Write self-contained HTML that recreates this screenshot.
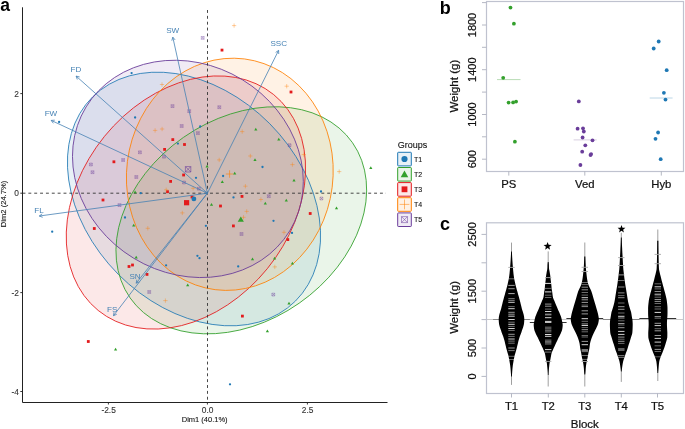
<!DOCTYPE html>
<html><head><meta charset="utf-8"><style>
html,body{margin:0;padding:0;background:#fff;}
svg{display:block;font-family:"Liberation Sans", sans-serif;will-change:transform;}
</style></head><body>
<svg width="685" height="429" viewBox="0 0 685 429">
<rect width="685" height="429" fill="#fff"/>
<ellipse cx="194.0" cy="199.0" rx="143.9" ry="106.8" transform="rotate(-134.8 194.0 199.0)" fill="#1F78B4" fill-opacity="0.1" stroke="none"/>
<ellipse cx="241.3" cy="220.3" rx="135.6" ry="101.1" transform="rotate(145.1 241.3 220.3)" fill="#33A02C" fill-opacity="0.1" stroke="none"/>
<ellipse cx="185.9" cy="202.5" rx="139.1" ry="104.9" transform="rotate(-50.9 185.9 202.5)" fill="#E31A1C" fill-opacity="0.1" stroke="none"/>
<ellipse cx="229.8" cy="174.3" rx="116.3" ry="103.2" transform="rotate(-82.8 229.8 174.3)" fill="#FF7F00" fill-opacity="0.1" stroke="none"/>
<ellipse cx="187.9" cy="168.9" rx="119.2" ry="104.5" transform="rotate(-148.7 187.9 168.9)" fill="#6A3D9A" fill-opacity="0.1" stroke="none"/>
<ellipse cx="194.0" cy="199.0" rx="143.9" ry="106.8" transform="rotate(-134.8 194.0 199.0)" fill="none" stroke="#1F78B4" stroke-width="0.8"/>
<ellipse cx="241.3" cy="220.3" rx="135.6" ry="101.1" transform="rotate(145.1 241.3 220.3)" fill="none" stroke="#33A02C" stroke-width="0.8"/>
<ellipse cx="185.9" cy="202.5" rx="139.1" ry="104.9" transform="rotate(-50.9 185.9 202.5)" fill="none" stroke="#E31A1C" stroke-width="0.8"/>
<ellipse cx="229.8" cy="174.3" rx="116.3" ry="103.2" transform="rotate(-82.8 229.8 174.3)" fill="none" stroke="#FF7F00" stroke-width="0.8"/>
<ellipse cx="187.9" cy="168.9" rx="119.2" ry="104.5" transform="rotate(-148.7 187.9 168.9)" fill="none" stroke="#6A3D9A" stroke-width="0.8"/>
<line x1="22.5" y1="193.2" x2="386" y2="193.2" stroke="#333" stroke-width="0.9" stroke-dasharray="2.93,2.93"/>
<line x1="207.5" y1="10" x2="207.5" y2="402" stroke="#333" stroke-width="0.9" stroke-dasharray="2.93,2.93"/>
<circle cx="131.6" cy="73.1" r="1.15" fill="#1F78B4"/>
<circle cx="59.1" cy="122" r="1.15" fill="#1F78B4"/>
<circle cx="135.1" cy="117.5" r="1.15" fill="#1F78B4"/>
<circle cx="200.2" cy="126.5" r="1.15" fill="#1F78B4"/>
<circle cx="177.9" cy="143.6" r="1.15" fill="#1F78B4"/>
<circle cx="196" cy="177.8" r="1.15" fill="#1F78B4"/>
<circle cx="223.1" cy="176" r="1.15" fill="#1F78B4"/>
<circle cx="140.7" cy="193.2" r="1.15" fill="#1F78B4"/>
<circle cx="262.5" cy="167" r="1.15" fill="#1F78B4"/>
<circle cx="233.5" cy="197.4" r="1.15" fill="#1F78B4"/>
<circle cx="125" cy="217.5" r="1.15" fill="#1F78B4"/>
<circle cx="52.2" cy="231.7" r="1.15" fill="#1F78B4"/>
<circle cx="205.9" cy="225.8" r="1.15" fill="#1F78B4"/>
<circle cx="197.4" cy="255.8" r="1.15" fill="#1F78B4"/>
<circle cx="199.5" cy="258.2" r="1.15" fill="#1F78B4"/>
<circle cx="166.1" cy="265.3" r="1.15" fill="#1F78B4"/>
<circle cx="273.5" cy="220.8" r="1.15" fill="#1F78B4"/>
<circle cx="292" cy="232.9" r="1.15" fill="#1F78B4"/>
<circle cx="321" cy="191.5" r="1.15" fill="#1F78B4"/>
<circle cx="230" cy="384.3" r="1.15" fill="#1F78B4"/>
<circle cx="238.2" cy="266.4" r="1.15" fill="#1F78B4"/>
<rect x="220.60" y="48.70" width="2.8" height="2.8" fill="#E31A1C"/>
<rect x="289.60" y="90.60" width="2.8" height="2.8" fill="#E31A1C"/>
<rect x="112.50" y="160.40" width="2.8" height="2.8" fill="#E31A1C"/>
<rect x="171.40" y="138.20" width="2.8" height="2.8" fill="#E31A1C"/>
<rect x="183.10" y="143.10" width="2.8" height="2.8" fill="#E31A1C"/>
<rect x="163.20" y="148.00" width="2.8" height="2.8" fill="#E31A1C"/>
<rect x="182.20" y="173.60" width="2.8" height="2.8" fill="#E31A1C"/>
<rect x="169.20" y="180.00" width="2.8" height="2.8" fill="#E31A1C"/>
<rect x="166.10" y="190.30" width="2.8" height="2.8" fill="#E31A1C"/>
<rect x="190.60" y="195.60" width="2.8" height="2.8" fill="#E31A1C"/>
<rect x="219.10" y="204.60" width="2.8" height="2.8" fill="#E31A1C"/>
<rect x="240.60" y="195.00" width="2.8" height="2.8" fill="#E31A1C"/>
<rect x="101.60" y="198.60" width="2.8" height="2.8" fill="#E31A1C"/>
<rect x="92.90" y="227.10" width="2.8" height="2.8" fill="#E31A1C"/>
<rect x="127.60" y="265.10" width="2.8" height="2.8" fill="#E31A1C"/>
<rect x="131.10" y="263.60" width="2.8" height="2.8" fill="#E31A1C"/>
<rect x="145.60" y="273.00" width="2.8" height="2.8" fill="#E31A1C"/>
<rect x="241.00" y="314.70" width="2.8" height="2.8" fill="#E31A1C"/>
<rect x="286.40" y="238.20" width="2.8" height="2.8" fill="#E31A1C"/>
<rect x="308.80" y="212.10" width="2.8" height="2.8" fill="#E31A1C"/>
<rect x="86.90" y="340.10" width="2.8" height="2.8" fill="#E31A1C"/>
<rect x="232.00" y="224.50" width="2.8" height="2.8" fill="#E31A1C"/>
<path d="M207.10,164.84L208.70,167.61L205.50,167.61Z" fill="#33A02C"/>
<path d="M255.80,127.64L257.40,130.41L254.20,130.41Z" fill="#33A02C"/>
<path d="M278.80,137.64L280.40,140.41L277.20,140.41Z" fill="#33A02C"/>
<path d="M255.00,158.34L256.60,161.11L253.40,161.11Z" fill="#33A02C"/>
<path d="M294.00,178.84L295.60,181.61L292.40,181.61Z" fill="#33A02C"/>
<path d="M370.80,166.34L372.40,169.11L369.20,169.11Z" fill="#33A02C"/>
<path d="M286.30,198.84L287.90,201.61L284.70,201.61Z" fill="#33A02C"/>
<path d="M265.30,201.64L266.90,204.41L263.70,204.41Z" fill="#33A02C"/>
<path d="M336.50,206.54L338.10,209.31L334.90,209.31Z" fill="#33A02C"/>
<path d="M222.30,180.34L223.90,183.11L220.70,183.11Z" fill="#33A02C"/>
<path d="M234.70,171.84L236.30,174.61L233.10,174.61Z" fill="#33A02C"/>
<path d="M211.50,202.94L213.10,205.71L209.90,205.71Z" fill="#33A02C"/>
<path d="M135.10,190.54L136.70,193.31L133.50,193.31Z" fill="#33A02C"/>
<path d="M133.70,223.84L135.30,226.61L132.10,226.61Z" fill="#33A02C"/>
<path d="M136.20,255.74L137.80,258.51L134.60,258.51Z" fill="#33A02C"/>
<path d="M252.50,257.54L254.10,260.31L250.90,260.31Z" fill="#33A02C"/>
<path d="M274.60,256.84L276.20,259.61L273.00,259.61Z" fill="#33A02C"/>
<path d="M292.40,261.74L294.00,264.51L290.80,264.51Z" fill="#33A02C"/>
<path d="M187.70,283.44L189.30,286.21L186.10,286.21Z" fill="#33A02C"/>
<path d="M289.00,301.64L290.60,304.41L287.40,304.41Z" fill="#33A02C"/>
<path d="M267.40,329.54L269.00,332.31L265.80,332.31Z" fill="#33A02C"/>
<path d="M115.60,347.64L117.20,350.41L114.00,350.41Z" fill="#33A02C"/>
<path d="M231.95,25.6H236.25M234.1,23.45V27.75" stroke="#FF7F00" stroke-width="0.5" stroke-opacity="0.75" fill="none"/>
<path d="M159.85,84.5H164.15M162,82.35V86.65" stroke="#FF7F00" stroke-width="0.5" stroke-opacity="0.75" fill="none"/>
<path d="M284.55,86.2H288.85M286.7,84.05V88.35" stroke="#FF7F00" stroke-width="0.5" stroke-opacity="0.75" fill="none"/>
<path d="M152.95,130.4H157.25M155.1,128.25V132.55" stroke="#FF7F00" stroke-width="0.5" stroke-opacity="0.75" fill="none"/>
<path d="M159.95,129H164.25M162.1,126.85V131.15" stroke="#FF7F00" stroke-width="0.5" stroke-opacity="0.75" fill="none"/>
<path d="M240.05,131.6H244.35M242.2,129.45V133.75" stroke="#FF7F00" stroke-width="0.5" stroke-opacity="0.75" fill="none"/>
<path d="M248.15,156H252.45M250.3,153.85V158.15" stroke="#FF7F00" stroke-width="0.5" stroke-opacity="0.75" fill="none"/>
<path d="M217.05,159.9H221.35M219.2,157.75V162.05" stroke="#FF7F00" stroke-width="0.5" stroke-opacity="0.75" fill="none"/>
<path d="M290.25,164.6H294.55M292.4,162.45V166.75" stroke="#FF7F00" stroke-width="0.5" stroke-opacity="0.75" fill="none"/>
<path d="M337.05,171.6H341.35M339.2,169.45V173.75" stroke="#FF7F00" stroke-width="0.5" stroke-opacity="0.75" fill="none"/>
<path d="M258.75,199.5H263.05M260.9,197.35V201.65" stroke="#FF7F00" stroke-width="0.5" stroke-opacity="0.75" fill="none"/>
<path d="M190.95,188.3H195.25M193.1,186.15V190.45" stroke="#FF7F00" stroke-width="0.5" stroke-opacity="0.75" fill="none"/>
<path d="M164.05,189.8H168.35M166.2,187.65V191.95" stroke="#FF7F00" stroke-width="0.5" stroke-opacity="0.75" fill="none"/>
<path d="M243.25,186.2H247.55M245.4,184.05V188.35" stroke="#FF7F00" stroke-width="0.5" stroke-opacity="0.75" fill="none"/>
<path d="M244.55,211.4H248.85M246.7,209.25V213.55" stroke="#FF7F00" stroke-width="0.5" stroke-opacity="0.75" fill="none"/>
<path d="M241.35,217.3H245.65M243.5,215.15V219.45" stroke="#FF7F00" stroke-width="0.5" stroke-opacity="0.75" fill="none"/>
<path d="M180.15,212.9H184.45M182.3,210.75V215.05" stroke="#FF7F00" stroke-width="0.5" stroke-opacity="0.75" fill="none"/>
<path d="M145.65,228.3H149.95M147.8,226.15V230.45" stroke="#FF7F00" stroke-width="0.5" stroke-opacity="0.75" fill="none"/>
<path d="M281.85,232.3H286.15M284,230.15V234.45" stroke="#FF7F00" stroke-width="0.5" stroke-opacity="0.75" fill="none"/>
<path d="M272.65,266.9H276.95M274.8,264.75V269.05" stroke="#FF7F00" stroke-width="0.5" stroke-opacity="0.75" fill="none"/>
<path d="M163.25,300.6H167.55M165.4,298.45V302.75" stroke="#FF7F00" stroke-width="0.5" stroke-opacity="0.75" fill="none"/>
<path d="M301.65,154.6H305.95M303.8,152.45V156.75" stroke="#FF7F00" stroke-width="0.5" stroke-opacity="0.75" fill="none"/>
<path d="M201.30,36.50h2.8v2.8h-2.8zM201.30,36.50l2.8,2.8M204.10,36.50l-2.8,2.8" stroke="#6A3D9A" stroke-width="0.45" stroke-opacity="0.8" fill="none"/>
<path d="M171.10,104.70h2.8v2.8h-2.8zM171.10,104.70l2.8,2.8M173.90,104.70l-2.8,2.8" stroke="#6A3D9A" stroke-width="0.45" stroke-opacity="0.8" fill="none"/>
<path d="M187.80,109.70h2.8v2.8h-2.8zM187.80,109.70l2.8,2.8M190.60,109.70l-2.8,2.8" stroke="#6A3D9A" stroke-width="0.45" stroke-opacity="0.8" fill="none"/>
<path d="M217.90,105.80h2.8v2.8h-2.8zM217.90,105.80l2.8,2.8M220.70,105.80l-2.8,2.8" stroke="#6A3D9A" stroke-width="0.45" stroke-opacity="0.8" fill="none"/>
<path d="M180.30,124.60h2.8v2.8h-2.8zM180.30,124.60l2.8,2.8M183.10,124.60l-2.8,2.8" stroke="#6A3D9A" stroke-width="0.45" stroke-opacity="0.8" fill="none"/>
<path d="M196.50,131.70h2.8v2.8h-2.8zM196.50,131.70l2.8,2.8M199.30,131.70l-2.8,2.8" stroke="#6A3D9A" stroke-width="0.45" stroke-opacity="0.8" fill="none"/>
<path d="M138.50,150.90h2.8v2.8h-2.8zM138.50,150.90l2.8,2.8M141.30,150.90l-2.8,2.8" stroke="#6A3D9A" stroke-width="0.45" stroke-opacity="0.8" fill="none"/>
<path d="M162.60,155.30h2.8v2.8h-2.8zM162.60,155.30l2.8,2.8M165.40,155.30l-2.8,2.8" stroke="#6A3D9A" stroke-width="0.45" stroke-opacity="0.8" fill="none"/>
<path d="M134.90,175.60h2.8v2.8h-2.8zM134.90,175.60l2.8,2.8M137.70,175.60l-2.8,2.8" stroke="#6A3D9A" stroke-width="0.45" stroke-opacity="0.8" fill="none"/>
<path d="M182.60,181.10h2.8v2.8h-2.8zM182.60,181.10l2.8,2.8M185.40,181.10l-2.8,2.8" stroke="#6A3D9A" stroke-width="0.45" stroke-opacity="0.8" fill="none"/>
<path d="M197.40,187.30h2.8v2.8h-2.8zM197.40,187.30l2.8,2.8M200.20,187.30l-2.8,2.8" stroke="#6A3D9A" stroke-width="0.45" stroke-opacity="0.8" fill="none"/>
<path d="M89.50,163.10h2.8v2.8h-2.8zM89.50,163.10l2.8,2.8M92.30,163.10l-2.8,2.8" stroke="#6A3D9A" stroke-width="0.45" stroke-opacity="0.8" fill="none"/>
<path d="M91.10,170.80h2.8v2.8h-2.8zM91.10,170.80l2.8,2.8M93.90,170.80l-2.8,2.8" stroke="#6A3D9A" stroke-width="0.45" stroke-opacity="0.8" fill="none"/>
<path d="M121.70,158.60h2.8v2.8h-2.8zM121.70,158.60l2.8,2.8M124.50,158.60l-2.8,2.8" stroke="#6A3D9A" stroke-width="0.45" stroke-opacity="0.8" fill="none"/>
<path d="M118.10,203.70h2.8v2.8h-2.8zM118.10,203.70l2.8,2.8M120.90,203.70l-2.8,2.8" stroke="#6A3D9A" stroke-width="0.45" stroke-opacity="0.8" fill="none"/>
<path d="M288.20,143.80h2.8v2.8h-2.8zM288.20,143.80l2.8,2.8M291.00,143.80l-2.8,2.8" stroke="#6A3D9A" stroke-width="0.45" stroke-opacity="0.8" fill="none"/>
<path d="M267.40,194.80h2.8v2.8h-2.8zM267.40,194.80l2.8,2.8M270.20,194.80l-2.8,2.8" stroke="#6A3D9A" stroke-width="0.45" stroke-opacity="0.8" fill="none"/>
<path d="M320.00,197.10h2.8v2.8h-2.8zM320.00,197.10l2.8,2.8M322.80,197.10l-2.8,2.8" stroke="#6A3D9A" stroke-width="0.45" stroke-opacity="0.8" fill="none"/>
<path d="M271.90,293.20h2.8v2.8h-2.8zM271.90,293.20l2.8,2.8M274.70,293.20l-2.8,2.8" stroke="#6A3D9A" stroke-width="0.45" stroke-opacity="0.8" fill="none"/>
<path d="M147.80,290.60h2.8v2.8h-2.8zM147.80,290.60l2.8,2.8M150.60,290.60l-2.8,2.8" stroke="#6A3D9A" stroke-width="0.45" stroke-opacity="0.8" fill="none"/>
<path d="M240.10,232.60h2.8v2.8h-2.8zM240.10,232.60l2.8,2.8M242.90,232.60l-2.8,2.8" stroke="#6A3D9A" stroke-width="0.45" stroke-opacity="0.8" fill="none"/>
<circle cx="193.9" cy="198.9" r="2.4" fill="#1F78B4"/>
<rect x="184.00" y="200.10" width="5.2" height="5.2" fill="#E31A1C"/>
<path d="M240.80,216.48L243.90,221.85L237.70,221.85Z" fill="#33A02C"/>
<path d="M225.85,174H233.35M229.6,170.25V177.75" stroke="#FF7F00" stroke-width="0.6" stroke-opacity="1" fill="none"/>
<path d="M185.40,166.60h5.4v5.4h-5.4zM185.40,166.60l5.4,5.4M190.80,166.60l-5.4,5.4" stroke="#6A3D9A" stroke-width="0.6" stroke-opacity="1" fill="none"/>
<line x1="207.4" y1="193.2" x2="172.8" y2="37.2" stroke="#4682B4" stroke-width="0.8"/>
<line x1="172.8" y1="37.2" x2="171.80" y2="40.66" stroke="#4682B4" stroke-width="0.8"/>
<line x1="172.8" y1="37.2" x2="175.17" y2="39.91" stroke="#4682B4" stroke-width="0.8"/>
<text x="172.7" y="32.9" font-size="8.1" fill="#4682B4" text-anchor="middle">SW</text>
<line x1="207.4" y1="193.2" x2="278.6" y2="50.4" stroke="#4682B4" stroke-width="0.8"/>
<line x1="278.6" y1="50.4" x2="275.65" y2="52.46" stroke="#4682B4" stroke-width="0.8"/>
<line x1="278.6" y1="50.4" x2="278.73" y2="54.00" stroke="#4682B4" stroke-width="0.8"/>
<text x="278.75" y="46.45" font-size="8.1" fill="#4682B4" text-anchor="middle">SSC</text>
<line x1="207.4" y1="193.2" x2="76.1" y2="76.1" stroke="#4682B4" stroke-width="0.8"/>
<line x1="76.1" y1="76.1" x2="77.31" y2="79.49" stroke="#4682B4" stroke-width="0.8"/>
<line x1="76.1" y1="76.1" x2="79.61" y2="76.91" stroke="#4682B4" stroke-width="0.8"/>
<text x="75.9" y="72.25" font-size="8.1" fill="#4682B4" text-anchor="middle">FD</text>
<line x1="207.4" y1="193.2" x2="51.2" y2="120.4" stroke="#4682B4" stroke-width="0.8"/>
<line x1="51.2" y1="120.4" x2="53.33" y2="123.30" stroke="#4682B4" stroke-width="0.8"/>
<line x1="51.2" y1="120.4" x2="54.79" y2="120.17" stroke="#4682B4" stroke-width="0.8"/>
<text x="50.95" y="116.0" font-size="8.1" fill="#4682B4" text-anchor="middle">FW</text>
<line x1="207.4" y1="193.2" x2="39.3" y2="216" stroke="#4682B4" stroke-width="0.8"/>
<line x1="39.3" y1="216" x2="42.66" y2="217.29" stroke="#4682B4" stroke-width="0.8"/>
<line x1="39.3" y1="216" x2="42.20" y2="213.87" stroke="#4682B4" stroke-width="0.8"/>
<text x="39.1" y="212.55" font-size="8.1" fill="#4682B4" text-anchor="middle">FL</text>
<line x1="207.4" y1="193.2" x2="136.2" y2="283.2" stroke="#4682B4" stroke-width="0.8"/>
<line x1="136.2" y1="283.2" x2="139.51" y2="281.79" stroke="#4682B4" stroke-width="0.8"/>
<line x1="136.2" y1="283.2" x2="136.81" y2="279.65" stroke="#4682B4" stroke-width="0.8"/>
<text x="135.0" y="278.8" font-size="8.1" fill="#4682B4" text-anchor="middle">SN</text>
<line x1="207.4" y1="193.2" x2="113.5" y2="315.7" stroke="#4682B4" stroke-width="0.8"/>
<line x1="113.5" y1="315.7" x2="116.79" y2="314.24" stroke="#4682B4" stroke-width="0.8"/>
<line x1="113.5" y1="315.7" x2="114.05" y2="312.14" stroke="#4682B4" stroke-width="0.8"/>
<text x="112.15" y="312.25" font-size="8.1" fill="#4682B4" text-anchor="middle">FS</text>
<path d="M22.5,7.3V402.5H387.5" stroke="#222" stroke-width="1" fill="none"/>
<line x1="20.3" y1="93.6" x2="22.5" y2="93.6" stroke="#222" stroke-width="0.9"/>
<text stroke="#333" stroke-width="0.1" x="18.9" y="96.6" font-size="8.4" fill="#333" text-anchor="end">2</text>
<line x1="20.3" y1="193.2" x2="22.5" y2="193.2" stroke="#222" stroke-width="0.9"/>
<text stroke="#333" stroke-width="0.1" x="18.9" y="196.2" font-size="8.4" fill="#333" text-anchor="end">0</text>
<line x1="20.3" y1="292.6" x2="22.5" y2="292.6" stroke="#222" stroke-width="0.9"/>
<text stroke="#333" stroke-width="0.1" x="18.9" y="295.6" font-size="8.4" fill="#333" text-anchor="end">-2</text>
<line x1="20.3" y1="391.5" x2="22.5" y2="391.5" stroke="#222" stroke-width="0.9"/>
<text stroke="#333" stroke-width="0.1" x="18.9" y="394.5" font-size="8.4" fill="#333" text-anchor="end">-4</text>
<line x1="108.4" y1="402.3" x2="108.4" y2="404.5" stroke="#222" stroke-width="0.9"/>
<text stroke="#333" stroke-width="0.1" x="108.60000000000001" y="412.8" font-size="8.4" fill="#333" text-anchor="middle">-2.5</text>
<line x1="207.4" y1="402.3" x2="207.4" y2="404.5" stroke="#222" stroke-width="0.9"/>
<text stroke="#333" stroke-width="0.1" x="207.6" y="412.8" font-size="8.4" fill="#333" text-anchor="middle">0.0</text>
<line x1="307.4" y1="402.3" x2="307.4" y2="404.5" stroke="#222" stroke-width="0.9"/>
<text stroke="#333" stroke-width="0.1" x="307.59999999999997" y="412.8" font-size="8.4" fill="#333" text-anchor="middle">2.5</text>
<text stroke="#111" stroke-width="0.1" x="204.7" y="422.4" font-size="7.5" fill="#111" text-anchor="middle">Dim1 (40.1%)</text>
<text stroke="#111" stroke-width="0.1" transform="translate(6.4,204) rotate(-90)" font-size="7.6" fill="#111" text-anchor="middle">Dim2 (24.7%)</text>
<text x="0.3" y="10.8" font-size="17.5" font-weight="bold" fill="#000">a</text>
<text stroke="#111" stroke-width="0.1" x="397.8" y="147.8" font-size="9" fill="#111">Groups</text>
<rect x="397.7" y="152.3" width="13.6" height="13.6" rx="0.6" fill="#1F78B4" fill-opacity="0.1" stroke="#1F78B4" stroke-width="1"/>
<circle cx="404.5" cy="159.0" r="3.1" fill="#1F78B4"/>
<text stroke="#111" stroke-width="0.1" x="414.1" y="161.8" font-size="7" fill="#111">T1</text>
<rect x="397.7" y="167.5" width="13.6" height="13.6" rx="0.6" fill="#33A02C" fill-opacity="0.1" stroke="#33A02C" stroke-width="1"/>
<path d="M404.50,170.55L408.30,177.13L400.70,177.13Z" fill="#33A02C"/>
<text stroke="#111" stroke-width="0.1" x="414.1" y="177.0" font-size="7" fill="#111">T2</text>
<rect x="397.7" y="182.6" width="13.6" height="13.6" rx="0.6" fill="#E31A1C" fill-opacity="0.1" stroke="#E31A1C" stroke-width="1"/>
<rect x="401.60" y="186.40" width="5.8" height="5.8" fill="#E31A1C"/>
<text stroke="#111" stroke-width="0.1" x="414.1" y="192.1" font-size="7" fill="#111">T3</text>
<rect x="397.7" y="197.7" width="13.6" height="13.6" rx="0.6" fill="#FF7F00" fill-opacity="0.1" stroke="#FF7F00" stroke-width="1"/>
<path d="M399.60,204.39999999999998H409.40M404.5,199.50V209.30" stroke="#FF7F00" stroke-width="0.65" stroke-opacity="0.8" fill="none"/>
<text stroke="#111" stroke-width="0.1" x="414.1" y="207.2" font-size="7" fill="#111">T4</text>
<rect x="397.7" y="212.9" width="13.6" height="13.6" rx="0.6" fill="#6A3D9A" fill-opacity="0.1" stroke="#6A3D9A" stroke-width="1"/>
<path d="M401.50,216.60h6.0v6.0h-6.0zM401.50,216.60l6.0,6.0M407.50,216.60l-6.0,6.0" stroke="#6A3D9A" stroke-width="0.65" stroke-opacity="0.8" fill="none"/>
<text stroke="#111" stroke-width="0.1" x="414.1" y="222.4" font-size="7" fill="#111">T5</text>
<text x="439.8" y="13.8" font-size="18" font-weight="bold" fill="#000">b</text>
<rect x="486.5" y="1.5" width="197" height="170" fill="none" stroke="#bfc2cf" stroke-width="1.2"/>
<line x1="482" y1="2.6" x2="486.5" y2="2.6" stroke="#b5b8c4" stroke-width="1"/>
<line x1="482" y1="25.0" x2="486.5" y2="25.0" stroke="#b5b8c4" stroke-width="1"/>
<line x1="482" y1="47.3" x2="486.5" y2="47.3" stroke="#b5b8c4" stroke-width="1"/>
<line x1="482" y1="69.7" x2="486.5" y2="69.7" stroke="#b5b8c4" stroke-width="1"/>
<line x1="482" y1="92.1" x2="486.5" y2="92.1" stroke="#b5b8c4" stroke-width="1"/>
<line x1="482" y1="114.5" x2="486.5" y2="114.5" stroke="#b5b8c4" stroke-width="1"/>
<line x1="482" y1="136.8" x2="486.5" y2="136.8" stroke="#b5b8c4" stroke-width="1"/>
<line x1="482" y1="159.2" x2="486.5" y2="159.2" stroke="#b5b8c4" stroke-width="1"/>
<text stroke="#111" stroke-width="0.22" transform="translate(476.2,25.0) rotate(-90)" font-size="11" fill="#111" text-anchor="middle">1800</text>
<text stroke="#111" stroke-width="0.22" transform="translate(476.2,69.7) rotate(-90)" font-size="11" fill="#111" text-anchor="middle">1400</text>
<text stroke="#111" stroke-width="0.22" transform="translate(476.2,114.5) rotate(-90)" font-size="11" fill="#111" text-anchor="middle">1000</text>
<text stroke="#111" stroke-width="0.22" transform="translate(476.2,159.2) rotate(-90)" font-size="11" fill="#111" text-anchor="middle">600</text>
<text stroke="#111" stroke-width="0.22" transform="translate(457.8,86.2) rotate(-90)" font-size="11.5" fill="#111" text-anchor="middle">Weight (g)</text>
<line x1="508.8" y1="171" x2="508.8" y2="175.6" stroke="#b5b8c4" stroke-width="1"/>
<text stroke="#111" stroke-width="0.22" x="508.8" y="188.1" font-size="11.3" fill="#111" text-anchor="middle">PS</text>
<line x1="584.8" y1="171" x2="584.8" y2="175.6" stroke="#b5b8c4" stroke-width="1"/>
<text stroke="#111" stroke-width="0.22" x="584.8" y="188.1" font-size="11.3" fill="#111" text-anchor="middle">Ved</text>
<line x1="661.3" y1="171" x2="661.3" y2="175.6" stroke="#b5b8c4" stroke-width="1"/>
<text stroke="#111" stroke-width="0.22" x="661.3" y="188.1" font-size="11.3" fill="#111" text-anchor="middle">Hyb</text>
<line x1="497" y1="79.6" x2="520.5" y2="79.6" stroke="#b9dcb6" stroke-width="1"/>
<line x1="573.6" y1="139.9" x2="596.7" y2="139.9" stroke="#d8cfe0" stroke-width="1"/>
<line x1="649.7" y1="98" x2="672.6" y2="98" stroke="#bcd6e6" stroke-width="1"/>
<circle cx="510.5" cy="7.6" r="1.9" fill="#33A02C"/>
<circle cx="513.9" cy="23.7" r="1.9" fill="#33A02C"/>
<circle cx="503.2" cy="77.8" r="1.9" fill="#33A02C"/>
<circle cx="508.6" cy="102.6" r="1.9" fill="#33A02C"/>
<circle cx="513.1" cy="102.4" r="1.9" fill="#33A02C"/>
<circle cx="516.1" cy="101.6" r="1.9" fill="#33A02C"/>
<circle cx="514.9" cy="141.7" r="1.9" fill="#33A02C"/>
<circle cx="578.8" cy="101.4" r="1.9" fill="#6A3D9A"/>
<circle cx="577.6" cy="128.7" r="1.9" fill="#6A3D9A"/>
<circle cx="583.0" cy="128.3" r="1.9" fill="#6A3D9A"/>
<circle cx="583.8" cy="131.5" r="1.9" fill="#6A3D9A"/>
<circle cx="582.6" cy="137.5" r="1.9" fill="#6A3D9A"/>
<circle cx="592.5" cy="140.3" r="1.9" fill="#6A3D9A"/>
<circle cx="585.3" cy="145.3" r="1.9" fill="#6A3D9A"/>
<circle cx="582.2" cy="151.7" r="1.9" fill="#6A3D9A"/>
<circle cx="591.1" cy="154.1" r="1.9" fill="#6A3D9A"/>
<circle cx="590.5" cy="155.1" r="1.9" fill="#6A3D9A"/>
<circle cx="580.4" cy="165" r="1.9" fill="#6A3D9A"/>
<circle cx="658.7" cy="41.5" r="1.9" fill="#1F78B4"/>
<circle cx="653.7" cy="48.5" r="1.9" fill="#1F78B4"/>
<circle cx="666.7" cy="70.2" r="1.9" fill="#1F78B4"/>
<circle cx="663.9" cy="92.8" r="1.9" fill="#1F78B4"/>
<circle cx="665.5" cy="99.6" r="1.9" fill="#1F78B4"/>
<circle cx="658.1" cy="132.5" r="1.9" fill="#1F78B4"/>
<circle cx="655.5" cy="138.8" r="1.9" fill="#1F78B4"/>
<circle cx="660.7" cy="159.2" r="1.9" fill="#1F78B4"/>
<text x="440" y="229.8" font-size="18" font-weight="bold" fill="#000">c</text>
<line x1="486.5" y1="319.5" x2="683.3" y2="319.5" stroke="#c4c4c4" stroke-width="0.9"/>
<line x1="511.5" y1="242.6" x2="511.5" y2="384.9" stroke="#888" stroke-width="0.8"/>
<line x1="493.1" y1="319.5" x2="529.9" y2="319.5" stroke="#8a8a8a" stroke-width="1"/>
<path d="M511.90,251.50 L511.97,253.08 L512.05,254.66 L512.13,256.24 L512.22,257.82 L512.32,259.41 L512.42,260.99 L512.53,262.57 L512.65,264.15 L512.78,265.73 L512.91,267.31 L513.04,268.89 L513.18,270.47 L513.33,272.05 L513.49,273.63 L513.68,275.22 L513.90,276.80 L514.16,278.38 L514.46,279.96 L514.78,281.54 L515.12,283.12 L515.48,284.70 L515.87,286.28 L516.30,287.86 L516.74,289.44 L517.19,291.03 L517.64,292.61 L518.07,294.19 L518.52,295.77 L518.96,297.35 L519.41,298.93 L519.84,300.51 L520.25,302.09 L520.65,303.67 L521.03,305.25 L521.41,306.84 L521.81,308.42 L522.24,310.00 L522.76,311.58 L523.28,313.16 L523.70,314.74 L524.00,316.32 L524.24,317.90 L524.30,319.48 L524.23,321.06 L524.10,322.65 L523.91,324.23 L523.55,325.81 L523.06,327.39 L522.50,328.97 L521.95,330.55 L521.43,332.13 L520.87,333.71 L520.28,335.29 L519.70,336.87 L519.17,338.46 L518.70,340.04 L518.30,341.62 L517.93,343.20 L517.55,344.78 L517.17,346.36 L516.78,347.94 L516.38,349.52 L515.94,351.10 L515.46,352.68 L514.98,354.27 L514.57,355.85 L514.22,357.43 L513.91,359.01 L513.62,360.59 L513.34,362.17 L513.07,363.75 L512.84,365.33 L512.64,366.91 L512.48,368.49 L512.34,370.08 L512.21,371.66 L512.10,373.24 L511.99,374.82 L511.90,376.40 L511.10,376.40 L511.01,374.82 L510.90,373.24 L510.79,371.66 L510.66,370.08 L510.52,368.49 L510.36,366.91 L510.16,365.33 L509.93,363.75 L509.66,362.17 L509.38,360.59 L509.09,359.01 L508.78,357.43 L508.43,355.85 L508.02,354.27 L507.54,352.68 L507.06,351.10 L506.62,349.52 L506.22,347.94 L505.83,346.36 L505.45,344.78 L505.07,343.20 L504.70,341.62 L504.30,340.04 L503.83,338.46 L503.30,336.87 L502.72,335.29 L502.13,333.71 L501.57,332.13 L501.05,330.55 L500.50,328.97 L499.94,327.39 L499.45,325.81 L499.09,324.23 L498.90,322.65 L498.77,321.06 L498.70,319.48 L498.76,317.90 L499.00,316.32 L499.30,314.74 L499.72,313.16 L500.24,311.58 L500.76,310.00 L501.19,308.42 L501.59,306.84 L501.97,305.25 L502.35,303.67 L502.75,302.09 L503.16,300.51 L503.59,298.93 L504.04,297.35 L504.48,295.77 L504.93,294.19 L505.36,292.61 L505.81,291.03 L506.26,289.44 L506.70,287.86 L507.13,286.28 L507.52,284.70 L507.88,283.12 L508.22,281.54 L508.54,279.96 L508.84,278.38 L509.10,276.80 L509.32,275.22 L509.51,273.63 L509.67,272.05 L509.82,270.47 L509.96,268.89 L510.09,267.31 L510.22,265.73 L510.35,264.15 L510.47,262.57 L510.58,260.99 L510.68,259.41 L510.78,257.82 L510.87,256.24 L510.95,254.66 L511.03,253.08 L511.10,251.50Z" fill="#000"/>
<line x1="508.3" y1="267.4" x2="514.7" y2="267.4" stroke="#a8a8a8" stroke-width="0.9"/>
<line x1="508.3" y1="278.8" x2="514.7" y2="278.8" stroke="#fff" stroke-opacity="0.47" stroke-width="0.9"/>
<line x1="508.3" y1="285.4" x2="514.7" y2="285.4" stroke="#fff" stroke-opacity="0.67" stroke-width="0.9"/>
<line x1="508.3" y1="288.7" x2="514.7" y2="288.7" stroke="#fff" stroke-opacity="0.62" stroke-width="0.9"/>
<line x1="508.3" y1="293.6" x2="514.7" y2="293.6" stroke="#fff" stroke-opacity="0.77" stroke-width="0.9"/>
<line x1="508.3" y1="298.5" x2="514.7" y2="298.5" stroke="#fff" stroke-opacity="0.47" stroke-width="0.9"/>
<line x1="508.3" y1="300.3" x2="514.7" y2="300.3" stroke="#fff" stroke-opacity="0.62" stroke-width="0.9"/>
<line x1="508.3" y1="302.3" x2="514.7" y2="302.3" stroke="#fff" stroke-opacity="0.92" stroke-width="0.9"/>
<line x1="508.3" y1="306.6" x2="514.7" y2="306.6" stroke="#fff" stroke-opacity="0.47" stroke-width="0.9"/>
<line x1="508.3" y1="308.7" x2="514.7" y2="308.7" stroke="#fff" stroke-opacity="0.92" stroke-width="0.9"/>
<line x1="508.3" y1="312.3" x2="514.7" y2="312.3" stroke="#fff" stroke-opacity="0.67" stroke-width="0.9"/>
<line x1="508.3" y1="314.2" x2="514.7" y2="314.2" stroke="#fff" stroke-opacity="0.67" stroke-width="0.9"/>
<line x1="508.3" y1="316.2" x2="514.7" y2="316.2" stroke="#fff" stroke-opacity="0.92" stroke-width="0.9"/>
<line x1="508.3" y1="319.5" x2="514.7" y2="319.5" stroke="#fff" stroke-opacity="0.92" stroke-width="0.9"/>
<line x1="508.3" y1="322.2" x2="514.7" y2="322.2" stroke="#fff" stroke-opacity="0.52" stroke-width="0.9"/>
<line x1="508.3" y1="324.3" x2="514.7" y2="324.3" stroke="#fff" stroke-opacity="0.92" stroke-width="0.9"/>
<line x1="508.3" y1="326.4" x2="514.7" y2="326.4" stroke="#fff" stroke-opacity="0.52" stroke-width="0.9"/>
<line x1="508.3" y1="328.5" x2="514.7" y2="328.5" stroke="#fff" stroke-opacity="0.92" stroke-width="0.9"/>
<line x1="508.3" y1="330.4" x2="514.7" y2="330.4" stroke="#fff" stroke-opacity="0.52" stroke-width="0.9"/>
<line x1="508.3" y1="334.3" x2="514.7" y2="334.3" stroke="#fff" stroke-opacity="0.67" stroke-width="0.9"/>
<line x1="508.3" y1="336.4" x2="514.7" y2="336.4" stroke="#fff" stroke-opacity="0.52" stroke-width="0.9"/>
<line x1="508.3" y1="339" x2="514.7" y2="339" stroke="#fff" stroke-opacity="0.92" stroke-width="0.9"/>
<line x1="508.3" y1="341.1" x2="514.7" y2="341.1" stroke="#fff" stroke-opacity="0.52" stroke-width="0.9"/>
<line x1="508.3" y1="343.2" x2="514.7" y2="343.2" stroke="#fff" stroke-opacity="0.52" stroke-width="0.9"/>
<line x1="508.3" y1="348" x2="514.7" y2="348" stroke="#fff" stroke-opacity="0.67" stroke-width="0.9"/>
<line x1="508.3" y1="350.6" x2="514.7" y2="350.6" stroke="#fff" stroke-opacity="0.52" stroke-width="0.9"/>
<line x1="508.3" y1="356.3" x2="514.7" y2="356.3" stroke="#fff" stroke-opacity="0.47" stroke-width="0.9"/>
<line x1="508.3" y1="359.5" x2="514.7" y2="359.5" stroke="#fff" stroke-opacity="0.47" stroke-width="0.9"/>
<line x1="548.2" y1="251.4" x2="548.2" y2="386.5" stroke="#888" stroke-width="0.8"/>
<line x1="529.8" y1="322.5" x2="566.6" y2="322.5" stroke="#333" stroke-width="1"/>
<path d="M548.60,262.00 L548.79,263.43 L548.89,264.86 L548.93,266.29 L548.97,267.72 L549.10,269.15 L549.38,270.58 L549.67,272.01 L549.91,273.44 L550.15,274.87 L550.35,276.30 L550.50,277.73 L550.63,279.16 L550.77,280.59 L550.97,282.03 L551.17,283.46 L551.34,284.89 L551.46,286.32 L551.57,287.75 L551.73,289.18 L551.96,290.61 L552.20,292.04 L552.41,293.47 L552.58,294.90 L552.76,296.33 L553.07,297.76 L553.61,299.19 L554.26,300.62 L554.84,302.05 L555.43,303.48 L556.03,304.91 L556.63,306.34 L557.24,307.77 L557.86,309.20 L558.49,310.63 L559.13,312.06 L559.74,313.49 L560.33,314.92 L560.88,316.35 L561.33,317.78 L561.68,319.22 L561.99,320.65 L562.26,322.08 L562.55,323.51 L562.70,324.94 L562.63,326.37 L562.46,327.80 L562.23,329.23 L561.85,330.66 L561.31,332.09 L560.71,333.52 L560.00,334.95 L559.22,336.38 L558.51,337.81 L557.85,339.24 L557.19,340.67 L556.52,342.10 L555.83,343.53 L555.15,344.96 L554.49,346.39 L553.84,347.82 L553.21,349.25 L552.58,350.68 L551.96,352.11 L551.49,353.54 L551.17,354.97 L550.92,356.41 L550.68,357.84 L550.42,359.27 L550.08,360.70 L549.75,362.13 L549.50,363.56 L549.33,364.99 L549.18,366.42 L549.03,367.85 L548.88,369.28 L548.74,370.71 L548.64,372.14 L548.56,373.57 L548.50,375.00 L547.90,375.00 L547.84,373.57 L547.76,372.14 L547.66,370.71 L547.52,369.28 L547.37,367.85 L547.22,366.42 L547.07,364.99 L546.90,363.56 L546.65,362.13 L546.32,360.70 L545.98,359.27 L545.72,357.84 L545.48,356.41 L545.23,354.97 L544.91,353.54 L544.44,352.11 L543.82,350.68 L543.19,349.25 L542.56,347.82 L541.91,346.39 L541.25,344.96 L540.57,343.53 L539.88,342.10 L539.21,340.67 L538.55,339.24 L537.89,337.81 L537.18,336.38 L536.40,334.95 L535.69,333.52 L535.09,332.09 L534.55,330.66 L534.17,329.23 L533.94,327.80 L533.77,326.37 L533.70,324.94 L533.85,323.51 L534.14,322.08 L534.41,320.65 L534.72,319.22 L535.07,317.78 L535.52,316.35 L536.07,314.92 L536.66,313.49 L537.27,312.06 L537.91,310.63 L538.54,309.20 L539.16,307.77 L539.77,306.34 L540.37,304.91 L540.97,303.48 L541.56,302.05 L542.14,300.62 L542.79,299.19 L543.33,297.76 L543.64,296.33 L543.82,294.90 L543.99,293.47 L544.20,292.04 L544.44,290.61 L544.67,289.18 L544.83,287.75 L544.94,286.32 L545.06,284.89 L545.23,283.46 L545.43,282.03 L545.63,280.59 L545.77,279.16 L545.90,277.73 L546.05,276.30 L546.25,274.87 L546.49,273.44 L546.73,272.01 L547.02,270.58 L547.30,269.15 L547.43,267.72 L547.47,266.29 L547.51,264.86 L547.61,263.43 L547.80,262.00Z" fill="#000"/>
<line x1="545.0" y1="277.6" x2="551.4" y2="277.6" stroke="#a8a8a8" stroke-width="0.9"/>
<line x1="545.0" y1="283.4" x2="551.4" y2="283.4" stroke="#fff" stroke-opacity="1.00" stroke-width="0.9"/>
<line x1="545.0" y1="288.4" x2="551.4" y2="288.4" stroke="#fff" stroke-opacity="0.47" stroke-width="0.9"/>
<line x1="545.0" y1="291.5" x2="551.4" y2="291.5" stroke="#fff" stroke-opacity="0.62" stroke-width="0.9"/>
<line x1="545.0" y1="292.6" x2="551.4" y2="292.6" stroke="#fff" stroke-opacity="0.47" stroke-width="0.9"/>
<line x1="545.0" y1="295.2" x2="551.4" y2="295.2" stroke="#fff" stroke-opacity="0.47" stroke-width="0.9"/>
<line x1="545.0" y1="297.5" x2="551.4" y2="297.5" stroke="#fff" stroke-opacity="0.47" stroke-width="0.9"/>
<line x1="545.0" y1="304.1" x2="551.4" y2="304.1" stroke="#fff" stroke-opacity="0.67" stroke-width="0.9"/>
<line x1="545.0" y1="306.2" x2="551.4" y2="306.2" stroke="#fff" stroke-opacity="0.67" stroke-width="0.9"/>
<line x1="545.0" y1="309.1" x2="551.4" y2="309.1" stroke="#fff" stroke-opacity="0.47" stroke-width="0.9"/>
<line x1="545.0" y1="311.5" x2="551.4" y2="311.5" stroke="#fff" stroke-opacity="0.92" stroke-width="0.9"/>
<line x1="545.0" y1="314.1" x2="551.4" y2="314.1" stroke="#fff" stroke-opacity="0.52" stroke-width="0.9"/>
<line x1="545.0" y1="314.9" x2="551.4" y2="314.9" stroke="#fff" stroke-opacity="0.62" stroke-width="0.9"/>
<line x1="545.0" y1="317.7" x2="551.4" y2="317.7" stroke="#fff" stroke-opacity="0.92" stroke-width="0.9"/>
<line x1="545.0" y1="321.4" x2="551.4" y2="321.4" stroke="#fff" stroke-opacity="0.92" stroke-width="0.9"/>
<line x1="545.0" y1="322.4" x2="551.4" y2="322.4" stroke="#fff" stroke-opacity="0.92" stroke-width="0.9"/>
<line x1="545.0" y1="327.2" x2="551.4" y2="327.2" stroke="#fff" stroke-opacity="0.52" stroke-width="0.9"/>
<line x1="545.0" y1="328.8" x2="551.4" y2="328.8" stroke="#fff" stroke-opacity="0.52" stroke-width="0.9"/>
<line x1="545.0" y1="330.3" x2="551.4" y2="330.3" stroke="#fff" stroke-opacity="0.52" stroke-width="0.9"/>
<line x1="545.0" y1="331.9" x2="551.4" y2="331.9" stroke="#fff" stroke-opacity="0.52" stroke-width="0.9"/>
<line x1="545.0" y1="334.5" x2="551.4" y2="334.5" stroke="#fff" stroke-opacity="0.97" stroke-width="0.9"/>
<line x1="545.0" y1="336.3" x2="551.4" y2="336.3" stroke="#fff" stroke-opacity="0.97" stroke-width="0.9"/>
<line x1="545.0" y1="340.1" x2="551.4" y2="340.1" stroke="#fff" stroke-opacity="0.52" stroke-width="0.9"/>
<line x1="545.0" y1="341.4" x2="551.4" y2="341.4" stroke="#fff" stroke-opacity="0.52" stroke-width="0.9"/>
<line x1="545.0" y1="342.7" x2="551.4" y2="342.7" stroke="#fff" stroke-opacity="0.52" stroke-width="0.9"/>
<line x1="545.0" y1="344" x2="551.4" y2="344" stroke="#fff" stroke-opacity="0.52" stroke-width="0.9"/>
<line x1="545.0" y1="349.6" x2="551.4" y2="349.6" stroke="#fff" stroke-opacity="0.92" stroke-width="0.9"/>
<line x1="545.0" y1="352.1" x2="551.4" y2="352.1" stroke="#fff" stroke-opacity="0.52" stroke-width="0.9"/>
<line x1="545.0" y1="361.4" x2="551.4" y2="361.4" stroke="#a8a8a8" stroke-width="0.9"/>
<line x1="584.8" y1="242.5" x2="584.8" y2="386.5" stroke="#888" stroke-width="0.8"/>
<line x1="566.4" y1="318.5" x2="603.2" y2="318.5" stroke="#333" stroke-width="1"/>
<path d="M585.35,256.50 L585.39,257.99 L585.44,259.49 L585.50,260.98 L585.56,262.47 L585.63,263.97 L585.70,265.46 L585.79,266.96 L585.92,268.45 L586.06,269.94 L586.20,271.44 L586.37,272.93 L586.54,274.42 L586.71,275.92 L586.90,277.41 L587.11,278.91 L587.38,280.40 L587.69,281.89 L588.05,283.39 L588.51,284.88 L589.04,286.37 L589.73,287.87 L590.48,289.36 L591.17,290.85 L591.71,292.35 L592.18,293.84 L592.62,295.34 L593.04,296.83 L593.46,298.32 L593.91,299.82 L594.36,301.31 L594.81,302.80 L595.27,304.30 L595.71,305.79 L596.14,307.28 L596.57,308.78 L597.01,310.27 L597.44,311.77 L597.84,313.26 L598.19,314.75 L598.47,316.25 L598.74,317.74 L598.85,319.23 L598.73,320.73 L598.46,322.22 L598.12,323.72 L597.56,325.21 L596.88,326.70 L596.18,328.20 L595.42,329.69 L594.66,331.18 L593.92,332.68 L593.20,334.17 L592.54,335.66 L591.93,337.16 L591.38,338.65 L590.89,340.15 L590.44,341.64 L590.07,343.13 L589.84,344.63 L589.68,346.12 L589.51,347.61 L589.26,349.11 L588.94,350.60 L588.61,352.09 L588.33,353.59 L588.07,355.08 L587.82,356.58 L587.55,358.07 L587.20,359.56 L586.84,361.06 L586.53,362.55 L586.27,364.04 L586.05,365.54 L585.86,367.03 L585.72,368.53 L585.62,370.02 L585.52,371.51 L585.39,373.01 L585.20,374.50 L584.40,374.50 L584.21,373.01 L584.08,371.51 L583.98,370.02 L583.88,368.53 L583.74,367.03 L583.55,365.54 L583.33,364.04 L583.07,362.55 L582.76,361.06 L582.40,359.56 L582.05,358.07 L581.78,356.58 L581.53,355.08 L581.27,353.59 L580.99,352.09 L580.66,350.60 L580.34,349.11 L580.09,347.61 L579.92,346.12 L579.76,344.63 L579.53,343.13 L579.16,341.64 L578.71,340.15 L578.22,338.65 L577.67,337.16 L577.06,335.66 L576.40,334.17 L575.68,332.68 L574.94,331.18 L574.18,329.69 L573.42,328.20 L572.72,326.70 L572.04,325.21 L571.48,323.72 L571.14,322.22 L570.87,320.73 L570.75,319.23 L570.86,317.74 L571.13,316.25 L571.41,314.75 L571.76,313.26 L572.16,311.77 L572.59,310.27 L573.03,308.78 L573.46,307.28 L573.89,305.79 L574.33,304.30 L574.79,302.80 L575.24,301.31 L575.69,299.82 L576.14,298.32 L576.56,296.83 L576.98,295.34 L577.42,293.84 L577.89,292.35 L578.43,290.85 L579.12,289.36 L579.87,287.87 L580.56,286.37 L581.09,284.88 L581.55,283.39 L581.91,281.89 L582.22,280.40 L582.49,278.91 L582.70,277.41 L582.89,275.92 L583.06,274.42 L583.23,272.93 L583.40,271.44 L583.54,269.94 L583.68,268.45 L583.81,266.96 L583.90,265.46 L583.97,263.97 L584.04,262.47 L584.10,260.98 L584.16,259.49 L584.21,257.99 L584.25,256.50Z" fill="#000"/>
<line x1="581.6" y1="267.3" x2="588.0" y2="267.3" stroke="#a8a8a8" stroke-width="0.9"/>
<line x1="581.6" y1="271.5" x2="588.0" y2="271.5" stroke="#a8a8a8" stroke-width="0.9"/>
<line x1="581.6" y1="282.5" x2="588.0" y2="282.5" stroke="#fff" stroke-opacity="0.47" stroke-width="0.9"/>
<line x1="581.6" y1="284.6" x2="588.0" y2="284.6" stroke="#fff" stroke-opacity="0.47" stroke-width="0.9"/>
<line x1="581.6" y1="287.2" x2="588.0" y2="287.2" stroke="#fff" stroke-opacity="0.62" stroke-width="0.9"/>
<line x1="581.6" y1="289.8" x2="588.0" y2="289.8" stroke="#fff" stroke-opacity="0.62" stroke-width="0.9"/>
<line x1="581.6" y1="292.5" x2="588.0" y2="292.5" stroke="#fff" stroke-opacity="0.47" stroke-width="0.9"/>
<line x1="581.6" y1="295.1" x2="588.0" y2="295.1" stroke="#fff" stroke-opacity="0.47" stroke-width="0.9"/>
<line x1="581.6" y1="297.7" x2="588.0" y2="297.7" stroke="#fff" stroke-opacity="0.92" stroke-width="0.9"/>
<line x1="581.6" y1="299.8" x2="588.0" y2="299.8" stroke="#fff" stroke-opacity="0.67" stroke-width="0.9"/>
<line x1="581.6" y1="302.4" x2="588.0" y2="302.4" stroke="#fff" stroke-opacity="0.67" stroke-width="0.9"/>
<line x1="581.6" y1="305.1" x2="588.0" y2="305.1" stroke="#fff" stroke-opacity="0.47" stroke-width="0.9"/>
<line x1="581.6" y1="306.6" x2="588.0" y2="306.6" stroke="#fff" stroke-opacity="0.62" stroke-width="0.9"/>
<line x1="581.6" y1="310.8" x2="588.0" y2="310.8" stroke="#fff" stroke-opacity="0.67" stroke-width="0.9"/>
<line x1="581.6" y1="313.9" x2="588.0" y2="313.9" stroke="#fff" stroke-opacity="0.67" stroke-width="0.9"/>
<line x1="581.6" y1="318.7" x2="588.0" y2="318.7" stroke="#fff" stroke-opacity="0.97" stroke-width="0.9"/>
<line x1="581.6" y1="321.3" x2="588.0" y2="321.3" stroke="#fff" stroke-opacity="0.47" stroke-width="0.9"/>
<line x1="581.6" y1="323.9" x2="588.0" y2="323.9" stroke="#fff" stroke-opacity="0.67" stroke-width="0.9"/>
<line x1="581.6" y1="325.5" x2="588.0" y2="325.5" stroke="#fff" stroke-opacity="0.92" stroke-width="0.9"/>
<line x1="581.6" y1="327.6" x2="588.0" y2="327.6" stroke="#fff" stroke-opacity="0.47" stroke-width="0.9"/>
<line x1="581.6" y1="329.7" x2="588.0" y2="329.7" stroke="#fff" stroke-opacity="0.67" stroke-width="0.9"/>
<line x1="581.6" y1="331.8" x2="588.0" y2="331.8" stroke="#fff" stroke-opacity="0.47" stroke-width="0.9"/>
<line x1="581.6" y1="335.5" x2="588.0" y2="335.5" stroke="#fff" stroke-opacity="0.47" stroke-width="0.9"/>
<line x1="581.6" y1="337" x2="588.0" y2="337" stroke="#fff" stroke-opacity="0.47" stroke-width="0.9"/>
<line x1="581.6" y1="341.4" x2="588.0" y2="341.4" stroke="#fff" stroke-opacity="0.67" stroke-width="0.9"/>
<line x1="581.6" y1="344.7" x2="588.0" y2="344.7" stroke="#fff" stroke-opacity="0.92" stroke-width="0.9"/>
<line x1="581.6" y1="349.5" x2="588.0" y2="349.5" stroke="#fff" stroke-opacity="0.52" stroke-width="0.9"/>
<line x1="581.6" y1="350.5" x2="588.0" y2="350.5" stroke="#fff" stroke-opacity="0.52" stroke-width="0.9"/>
<line x1="581.6" y1="351.6" x2="588.0" y2="351.6" stroke="#fff" stroke-opacity="0.52" stroke-width="0.9"/>
<line x1="581.6" y1="355.5" x2="588.0" y2="355.5" stroke="#fff" stroke-opacity="0.47" stroke-width="0.9"/>
<line x1="581.6" y1="359.4" x2="588.0" y2="359.4" stroke="#fff" stroke-opacity="0.47" stroke-width="0.9"/>
<line x1="581.6" y1="361.5" x2="588.0" y2="361.5" stroke="#a8a8a8" stroke-width="0.9"/>
<line x1="621.3" y1="232.8" x2="621.3" y2="381.9" stroke="#888" stroke-width="0.8"/>
<line x1="602.9" y1="319.5" x2="639.7" y2="319.5" stroke="#8a8a8a" stroke-width="1"/>
<path d="M621.70,237.40 L621.75,239.10 L621.81,240.79 L621.87,242.49 L621.94,244.19 L622.02,245.89 L622.11,247.58 L622.19,249.28 L622.28,250.98 L622.37,252.68 L622.46,254.37 L622.56,256.07 L622.65,257.77 L622.75,259.47 L622.84,261.16 L622.93,262.86 L623.02,264.56 L623.13,266.26 L623.25,267.95 L623.39,269.65 L623.57,271.35 L623.77,273.05 L623.97,274.74 L624.18,276.44 L624.39,278.14 L624.62,279.84 L624.85,281.53 L625.09,283.23 L625.35,284.93 L625.62,286.63 L625.90,288.32 L626.19,290.02 L626.47,291.72 L626.75,293.42 L627.01,295.11 L627.27,296.81 L627.54,298.51 L627.84,300.21 L628.16,301.90 L628.53,303.60 L628.97,305.30 L629.48,307.00 L630.01,308.69 L630.58,310.39 L631.07,312.09 L631.40,313.79 L631.67,315.48 L631.96,317.18 L632.30,318.88 L632.51,320.58 L632.63,322.27 L632.70,323.97 L632.69,325.67 L632.64,327.37 L632.58,329.06 L632.49,330.76 L632.36,332.46 L632.07,334.16 L631.52,335.85 L630.97,337.55 L630.45,339.25 L629.93,340.95 L629.38,342.64 L628.83,344.34 L628.29,346.04 L627.79,347.74 L627.26,349.43 L626.64,351.13 L626.01,352.83 L625.41,354.53 L624.82,356.22 L624.26,357.92 L623.69,359.62 L623.19,361.32 L622.83,363.01 L622.53,364.71 L622.27,366.41 L622.04,368.11 L621.83,369.80 L621.65,371.50 L620.95,371.50 L620.77,369.80 L620.56,368.11 L620.33,366.41 L620.07,364.71 L619.77,363.01 L619.41,361.32 L618.91,359.62 L618.34,357.92 L617.78,356.22 L617.19,354.53 L616.59,352.83 L615.96,351.13 L615.34,349.43 L614.81,347.74 L614.31,346.04 L613.77,344.34 L613.22,342.64 L612.67,340.95 L612.15,339.25 L611.63,337.55 L611.08,335.85 L610.53,334.16 L610.24,332.46 L610.11,330.76 L610.02,329.06 L609.96,327.37 L609.91,325.67 L609.90,323.97 L609.97,322.27 L610.09,320.58 L610.30,318.88 L610.64,317.18 L610.93,315.48 L611.20,313.79 L611.53,312.09 L612.02,310.39 L612.59,308.69 L613.12,307.00 L613.63,305.30 L614.07,303.60 L614.44,301.90 L614.76,300.21 L615.06,298.51 L615.33,296.81 L615.59,295.11 L615.85,293.42 L616.13,291.72 L616.41,290.02 L616.70,288.32 L616.98,286.63 L617.25,284.93 L617.51,283.23 L617.75,281.53 L617.98,279.84 L618.21,278.14 L618.42,276.44 L618.63,274.74 L618.83,273.05 L619.03,271.35 L619.21,269.65 L619.35,267.95 L619.47,266.26 L619.58,264.56 L619.67,262.86 L619.76,261.16 L619.85,259.47 L619.95,257.77 L620.04,256.07 L620.14,254.37 L620.23,252.68 L620.32,250.98 L620.41,249.28 L620.49,247.58 L620.58,245.89 L620.66,244.19 L620.73,242.49 L620.79,240.79 L620.85,239.10 L620.90,237.40Z" fill="#000"/>
<line x1="618.1" y1="257.6" x2="624.5" y2="257.6" stroke="#a8a8a8" stroke-width="0.9"/>
<line x1="618.1" y1="265.5" x2="624.5" y2="265.5" stroke="#a8a8a8" stroke-width="0.9"/>
<line x1="618.1" y1="274.9" x2="624.5" y2="274.9" stroke="#a8a8a8" stroke-width="0.9"/>
<line x1="618.1" y1="280.5" x2="624.5" y2="280.5" stroke="#fff" stroke-opacity="0.47" stroke-width="0.9"/>
<line x1="618.1" y1="287" x2="624.5" y2="287" stroke="#fff" stroke-opacity="0.62" stroke-width="0.9"/>
<line x1="618.1" y1="292.9" x2="624.5" y2="292.9" stroke="#fff" stroke-opacity="0.62" stroke-width="0.9"/>
<line x1="618.1" y1="295.6" x2="624.5" y2="295.6" stroke="#fff" stroke-opacity="0.47" stroke-width="0.9"/>
<line x1="618.1" y1="297.7" x2="624.5" y2="297.7" stroke="#fff" stroke-opacity="0.62" stroke-width="0.9"/>
<line x1="618.1" y1="303" x2="624.5" y2="303" stroke="#fff" stroke-opacity="0.47" stroke-width="0.9"/>
<line x1="618.1" y1="306.7" x2="624.5" y2="306.7" stroke="#fff" stroke-opacity="0.67" stroke-width="0.9"/>
<line x1="618.1" y1="309.3" x2="624.5" y2="309.3" stroke="#fff" stroke-opacity="0.67" stroke-width="0.9"/>
<line x1="618.1" y1="313" x2="624.5" y2="313" stroke="#fff" stroke-opacity="0.47" stroke-width="0.9"/>
<line x1="618.1" y1="316.3" x2="624.5" y2="316.3" stroke="#fff" stroke-opacity="0.92" stroke-width="0.9"/>
<line x1="618.1" y1="318" x2="624.5" y2="318" stroke="#fff" stroke-opacity="0.67" stroke-width="0.9"/>
<line x1="618.1" y1="320.8" x2="624.5" y2="320.8" stroke="#fff" stroke-opacity="0.47" stroke-width="0.9"/>
<line x1="618.1" y1="323.5" x2="624.5" y2="323.5" stroke="#fff" stroke-opacity="0.67" stroke-width="0.9"/>
<line x1="618.1" y1="325" x2="624.5" y2="325" stroke="#fff" stroke-opacity="0.47" stroke-width="0.9"/>
<line x1="618.1" y1="327.7" x2="624.5" y2="327.7" stroke="#fff" stroke-opacity="0.67" stroke-width="0.9"/>
<line x1="618.1" y1="331.4" x2="624.5" y2="331.4" stroke="#fff" stroke-opacity="0.92" stroke-width="0.9"/>
<line x1="618.1" y1="334.4" x2="624.5" y2="334.4" stroke="#fff" stroke-opacity="0.92" stroke-width="0.9"/>
<line x1="618.1" y1="337.1" x2="624.5" y2="337.1" stroke="#fff" stroke-opacity="0.67" stroke-width="0.9"/>
<line x1="618.1" y1="339.2" x2="624.5" y2="339.2" stroke="#fff" stroke-opacity="0.47" stroke-width="0.9"/>
<line x1="618.1" y1="341.3" x2="624.5" y2="341.3" stroke="#fff" stroke-opacity="0.67" stroke-width="0.9"/>
<line x1="618.1" y1="343.4" x2="624.5" y2="343.4" stroke="#fff" stroke-opacity="0.47" stroke-width="0.9"/>
<line x1="618.1" y1="348.9" x2="624.5" y2="348.9" stroke="#fff" stroke-opacity="0.67" stroke-width="0.9"/>
<line x1="618.1" y1="350.2" x2="624.5" y2="350.2" stroke="#fff" stroke-opacity="0.62" stroke-width="0.9"/>
<line x1="618.1" y1="355.7" x2="624.5" y2="355.7" stroke="#fff" stroke-opacity="0.62" stroke-width="0.9"/>
<line x1="618.1" y1="357.5" x2="624.5" y2="357.5" stroke="#fff" stroke-opacity="0.47" stroke-width="0.9"/>
<line x1="657.8" y1="229.5" x2="657.8" y2="381" stroke="#888" stroke-width="0.8"/>
<line x1="639.4" y1="318.5" x2="676.2" y2="318.5" stroke="#333" stroke-width="1"/>
<path d="M658.40,240.70 L658.41,242.37 L658.42,244.05 L658.43,245.72 L658.45,247.40 L658.47,249.07 L658.49,250.75 L658.51,252.42 L658.54,254.10 L658.56,255.77 L658.59,257.45 L658.63,259.12 L658.67,260.80 L658.72,262.47 L658.77,264.15 L658.83,265.82 L658.90,267.49 L659.01,269.17 L659.28,270.84 L659.69,272.52 L660.08,274.19 L660.51,275.87 L660.94,277.54 L661.36,279.22 L661.79,280.89 L662.24,282.57 L662.69,284.24 L663.14,285.92 L663.59,287.59 L664.04,289.27 L664.50,290.94 L664.97,292.62 L665.40,294.29 L665.83,295.96 L666.24,297.64 L666.58,299.31 L666.85,300.99 L667.05,302.66 L667.22,304.34 L667.38,306.01 L667.49,307.69 L667.50,309.36 L667.50,311.04 L667.50,312.71 L667.47,314.39 L667.41,316.06 L667.29,317.74 L667.12,319.41 L667.02,321.08 L666.97,322.76 L666.95,324.43 L666.99,326.11 L667.07,327.78 L667.16,329.46 L667.28,331.13 L667.35,332.81 L667.34,334.48 L667.32,336.16 L667.24,337.83 L666.85,339.51 L666.35,341.18 L665.88,342.86 L665.37,344.53 L664.81,346.21 L664.22,347.88 L663.61,349.55 L662.96,351.23 L662.30,352.90 L661.62,354.58 L660.92,356.25 L660.30,357.93 L659.73,359.60 L659.29,361.28 L659.04,362.95 L658.85,364.63 L658.70,366.30 L658.55,367.98 L658.41,369.65 L658.27,371.33 L658.15,373.00 L657.45,373.00 L657.33,371.33 L657.19,369.65 L657.05,367.98 L656.90,366.30 L656.75,364.63 L656.56,362.95 L656.31,361.28 L655.87,359.60 L655.30,357.93 L654.68,356.25 L653.98,354.58 L653.30,352.90 L652.64,351.23 L651.99,349.55 L651.38,347.88 L650.79,346.21 L650.23,344.53 L649.72,342.86 L649.25,341.18 L648.75,339.51 L648.36,337.83 L648.28,336.16 L648.26,334.48 L648.25,332.81 L648.32,331.13 L648.44,329.46 L648.53,327.78 L648.61,326.11 L648.65,324.43 L648.63,322.76 L648.58,321.08 L648.48,319.41 L648.31,317.74 L648.19,316.06 L648.13,314.39 L648.10,312.71 L648.10,311.04 L648.10,309.36 L648.11,307.69 L648.22,306.01 L648.38,304.34 L648.55,302.66 L648.75,300.99 L649.02,299.31 L649.36,297.64 L649.77,295.96 L650.20,294.29 L650.63,292.62 L651.10,290.94 L651.56,289.27 L652.01,287.59 L652.46,285.92 L652.91,284.24 L653.36,282.57 L653.81,280.89 L654.24,279.22 L654.66,277.54 L655.09,275.87 L655.52,274.19 L655.91,272.52 L656.32,270.84 L656.59,269.17 L656.70,267.49 L656.77,265.82 L656.83,264.15 L656.88,262.47 L656.93,260.80 L656.97,259.12 L657.01,257.45 L657.04,255.77 L657.06,254.10 L657.09,252.42 L657.11,250.75 L657.13,249.07 L657.15,247.40 L657.17,245.72 L657.18,244.05 L657.19,242.37 L657.20,240.70Z" fill="#000"/>
<line x1="654.6" y1="254.4" x2="661.0" y2="254.4" stroke="#a8a8a8" stroke-width="0.9"/>
<line x1="654.6" y1="263.7" x2="661.0" y2="263.7" stroke="#a8a8a8" stroke-width="0.9"/>
<line x1="654.6" y1="283.8" x2="661.0" y2="283.8" stroke="#fff" stroke-opacity="0.47" stroke-width="0.9"/>
<line x1="654.6" y1="286.8" x2="661.0" y2="286.8" stroke="#fff" stroke-opacity="0.92" stroke-width="0.9"/>
<line x1="654.6" y1="288.9" x2="661.0" y2="288.9" stroke="#fff" stroke-opacity="0.47" stroke-width="0.9"/>
<line x1="654.6" y1="291.5" x2="661.0" y2="291.5" stroke="#fff" stroke-opacity="0.62" stroke-width="0.9"/>
<line x1="654.6" y1="294.1" x2="661.0" y2="294.1" stroke="#fff" stroke-opacity="0.62" stroke-width="0.9"/>
<line x1="654.6" y1="294.9" x2="661.0" y2="294.9" stroke="#fff" stroke-opacity="0.62" stroke-width="0.9"/>
<line x1="654.6" y1="297.2" x2="661.0" y2="297.2" stroke="#fff" stroke-opacity="0.47" stroke-width="0.9"/>
<line x1="654.6" y1="299.5" x2="661.0" y2="299.5" stroke="#fff" stroke-opacity="0.67" stroke-width="0.9"/>
<line x1="654.6" y1="301.4" x2="661.0" y2="301.4" stroke="#fff" stroke-opacity="0.67" stroke-width="0.9"/>
<line x1="654.6" y1="303.5" x2="661.0" y2="303.5" stroke="#fff" stroke-opacity="0.47" stroke-width="0.9"/>
<line x1="654.6" y1="306.7" x2="661.0" y2="306.7" stroke="#fff" stroke-opacity="0.47" stroke-width="0.9"/>
<line x1="654.6" y1="309" x2="661.0" y2="309" stroke="#fff" stroke-opacity="0.47" stroke-width="0.9"/>
<line x1="654.6" y1="312.4" x2="661.0" y2="312.4" stroke="#fff" stroke-opacity="0.97" stroke-width="0.9"/>
<line x1="654.6" y1="316.6" x2="661.0" y2="316.6" stroke="#fff" stroke-opacity="0.67" stroke-width="0.9"/>
<line x1="654.6" y1="318.2" x2="661.0" y2="318.2" stroke="#fff" stroke-opacity="0.47" stroke-width="0.9"/>
<line x1="654.6" y1="323.3" x2="661.0" y2="323.3" stroke="#fff" stroke-opacity="0.67" stroke-width="0.9"/>
<line x1="654.6" y1="325.6" x2="661.0" y2="325.6" stroke="#fff" stroke-opacity="0.92" stroke-width="0.9"/>
<line x1="654.6" y1="328.7" x2="661.0" y2="328.7" stroke="#fff" stroke-opacity="0.47" stroke-width="0.9"/>
<line x1="654.6" y1="330.8" x2="661.0" y2="330.8" stroke="#fff" stroke-opacity="0.67" stroke-width="0.9"/>
<line x1="654.6" y1="335.5" x2="661.0" y2="335.5" stroke="#fff" stroke-opacity="0.67" stroke-width="0.9"/>
<line x1="654.6" y1="338.4" x2="661.0" y2="338.4" stroke="#fff" stroke-opacity="0.92" stroke-width="0.9"/>
<line x1="654.6" y1="342.1" x2="661.0" y2="342.1" stroke="#fff" stroke-opacity="0.92" stroke-width="0.9"/>
<line x1="654.6" y1="345.8" x2="661.0" y2="345.8" stroke="#fff" stroke-opacity="0.47" stroke-width="0.9"/>
<line x1="654.6" y1="349.4" x2="661.0" y2="349.4" stroke="#fff" stroke-opacity="0.67" stroke-width="0.9"/>
<line x1="654.6" y1="351.5" x2="661.0" y2="351.5" stroke="#fff" stroke-opacity="0.47" stroke-width="0.9"/>
<line x1="654.6" y1="356.8" x2="661.0" y2="356.8" stroke="#fff" stroke-opacity="0.42" stroke-width="0.9"/>
<path d="M547.60,242.05 L548.65,244.86 L551.64,244.99 L549.30,246.85 L550.10,249.74 L547.60,248.09 L545.10,249.74 L545.90,246.85 L543.56,244.99 L546.55,244.86Z" fill="#000"/>
<path d="M621.50,225.00 L622.51,227.71 L625.40,227.83 L623.14,229.63 L623.91,232.42 L621.50,230.82 L619.09,232.42 L619.86,229.63 L617.60,227.83 L620.49,227.71Z" fill="#000"/>
<rect x="486.5" y="222.8" width="197" height="170.7" fill="none" stroke="#bfc2cf" stroke-width="1.2"/>
<line x1="481.5" y1="376.4" x2="486.3" y2="376.4" stroke="#b5b8c4" stroke-width="1"/>
<line x1="481.5" y1="348.0" x2="486.3" y2="348.0" stroke="#b5b8c4" stroke-width="1"/>
<line x1="481.5" y1="319.6" x2="486.3" y2="319.6" stroke="#b5b8c4" stroke-width="1"/>
<line x1="481.5" y1="291.2" x2="486.3" y2="291.2" stroke="#b5b8c4" stroke-width="1"/>
<line x1="481.5" y1="262.8" x2="486.3" y2="262.8" stroke="#b5b8c4" stroke-width="1"/>
<line x1="481.5" y1="234.4" x2="486.3" y2="234.4" stroke="#b5b8c4" stroke-width="1"/>
<text stroke="#111" stroke-width="0.22" transform="translate(475.8,234.4) rotate(-90)" font-size="11" fill="#111" text-anchor="middle">2500</text>
<text stroke="#111" stroke-width="0.22" transform="translate(475.8,291.2) rotate(-90)" font-size="11" fill="#111" text-anchor="middle">1500</text>
<text stroke="#111" stroke-width="0.22" transform="translate(475.8,348.0) rotate(-90)" font-size="11" fill="#111" text-anchor="middle">500</text>
<text stroke="#111" stroke-width="0.22" transform="translate(475.8,376.4) rotate(-90)" font-size="11" fill="#111" text-anchor="middle">0</text>
<text stroke="#111" stroke-width="0.22" transform="translate(457.6,307.4) rotate(-90)" font-size="11.5" fill="#111" text-anchor="middle">Weight (g)</text>
<line x1="511.5" y1="393.2" x2="511.5" y2="397.5" stroke="#b5b8c4" stroke-width="1"/>
<text stroke="#111" stroke-width="0.22" x="511.5" y="409.5" font-size="11.3" fill="#111" text-anchor="middle">T1</text>
<line x1="548.3" y1="393.2" x2="548.3" y2="397.5" stroke="#b5b8c4" stroke-width="1"/>
<text stroke="#111" stroke-width="0.22" x="548.3" y="409.5" font-size="11.3" fill="#111" text-anchor="middle">T2</text>
<line x1="584.8" y1="393.2" x2="584.8" y2="397.5" stroke="#b5b8c4" stroke-width="1"/>
<text stroke="#111" stroke-width="0.22" x="584.8" y="409.5" font-size="11.3" fill="#111" text-anchor="middle">T3</text>
<line x1="621.3" y1="393.2" x2="621.3" y2="397.5" stroke="#b5b8c4" stroke-width="1"/>
<text stroke="#111" stroke-width="0.22" x="621.3" y="409.5" font-size="11.3" fill="#111" text-anchor="middle">T4</text>
<line x1="657.5" y1="393.2" x2="657.5" y2="397.5" stroke="#b5b8c4" stroke-width="1"/>
<text stroke="#111" stroke-width="0.22" x="657.5" y="409.5" font-size="11.3" fill="#111" text-anchor="middle">T5</text>
<text stroke="#111" stroke-width="0.22" x="584.8" y="427.5" font-size="11.5" fill="#111" text-anchor="middle">Block</text>
</svg>
</body></html>
